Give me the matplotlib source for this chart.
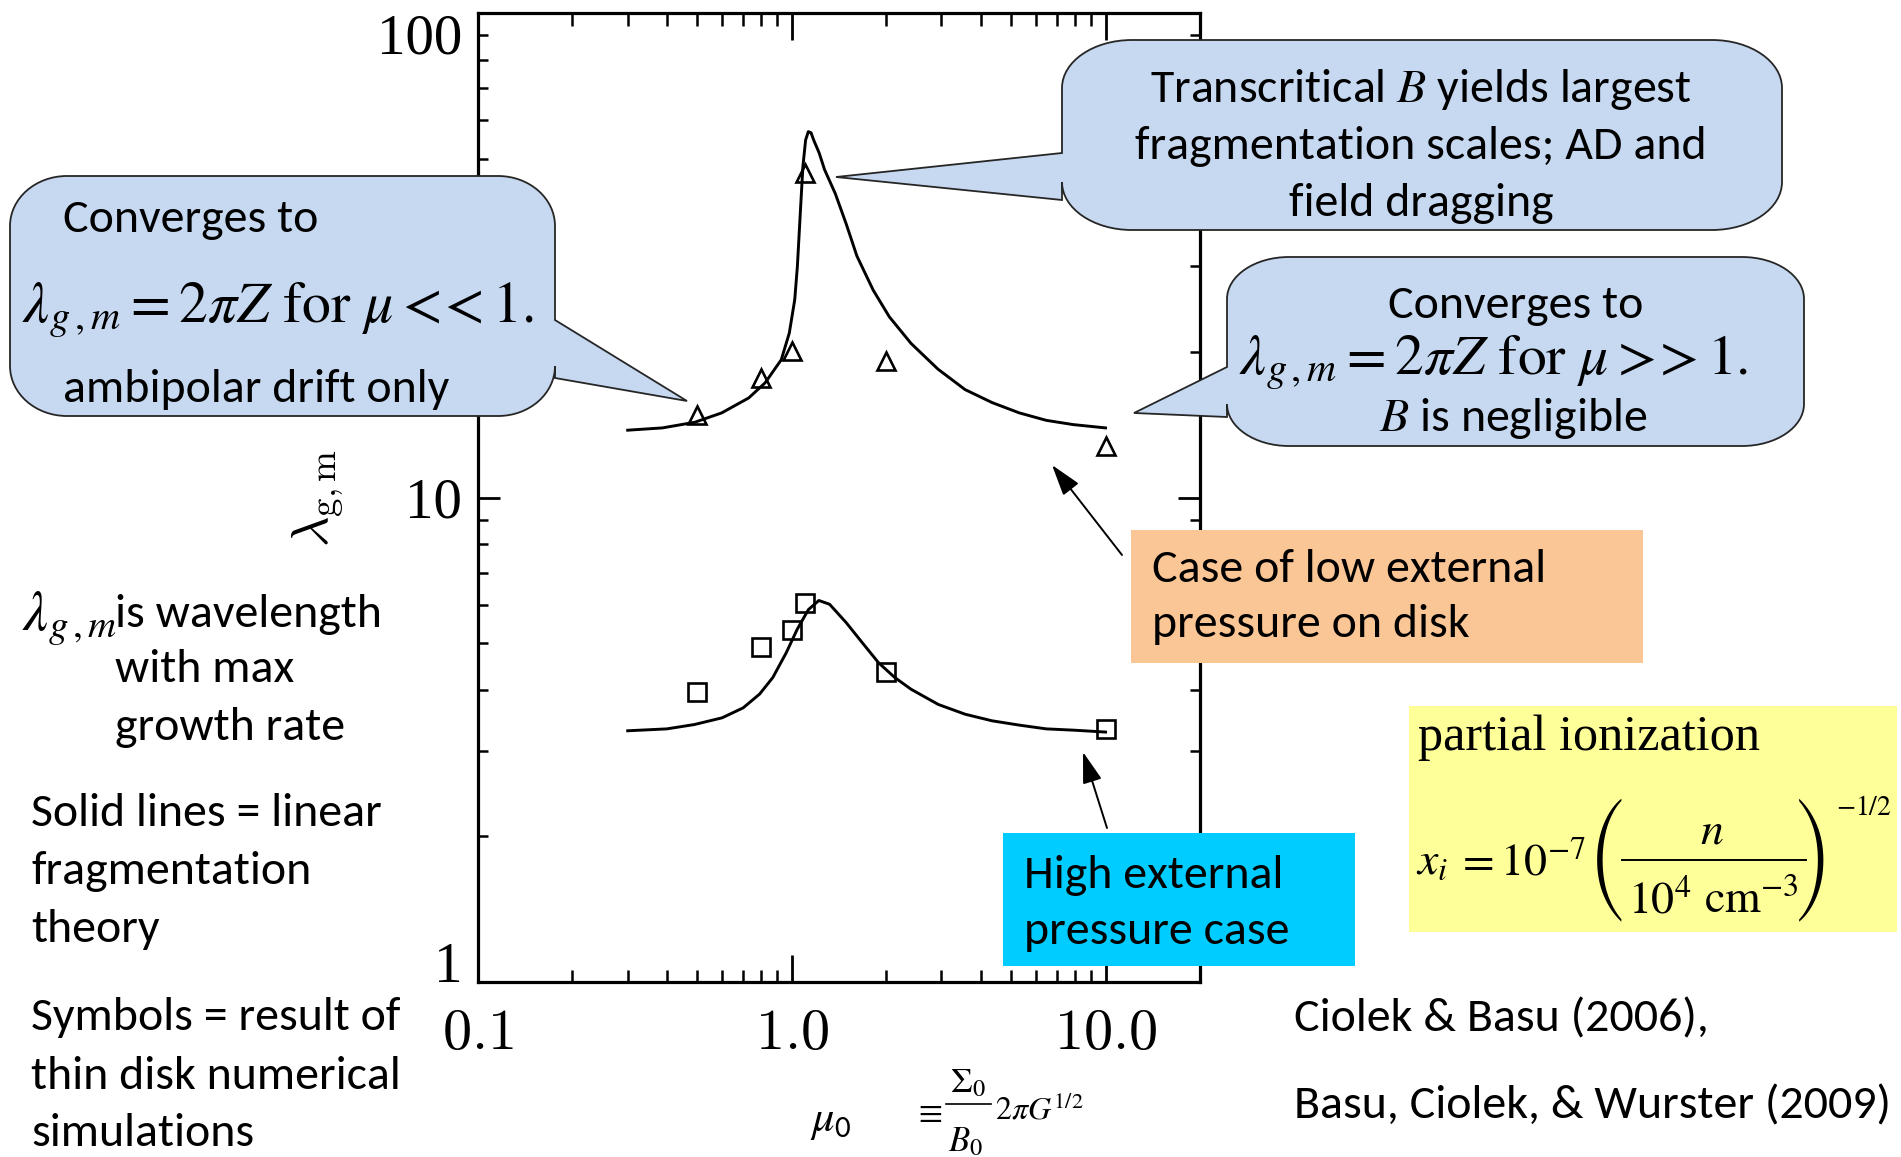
import numpy as np
import matplotlib
matplotlib.use('Agg')
import matplotlib.pyplot as plt
from matplotlib.path import Path
import matplotlib.patches as mpatches
from matplotlib.lines import Line2D
from matplotlib import font_manager as fm
from matplotlib.ticker import LogLocator, NullFormatter, FixedLocator, FixedFormatter
import matplotlib.transforms as mtransforms

# ---------------- data ----------------
mu_theory = [0.30, 0.387, 0.491, 0.598, 0.729, 0.822, 0.926, 0.982, 1.022, 1.042,
             1.063, 1.085, 1.107, 1.129, 1.152, 1.174, 1.223, 1.272, 1.376, 1.491,
             1.613, 1.817, 2.046, 2.399, 2.925, 3.567, 4.35, 5.31, 6.47, 7.89, 10.0]
lam_theory_low_p = [13.77, 13.92, 14.30, 14.95, 16.05, 17.24, 19.25, 21.85, 25.6, 30.0,
                    38.0, 48.2, 54.7, 56.9, 56.6, 54.7, 51.4, 47.5, 42.4, 36.7,
                    31.5, 26.8, 23.6, 20.8, 18.4, 16.7, 15.7, 14.95, 14.43, 14.14, 13.92]

mu_theory_hp = [0.30, 0.40, 0.49, 0.60, 0.70, 0.79, 0.87, 0.96, 1.04, 1.13, 1.22,
                1.32, 1.49, 1.68, 1.89, 2.13, 2.40, 2.93, 3.57, 4.35, 5.31, 6.47, 7.89, 10.0]
lam_theory_high_p = [3.30, 3.33, 3.40, 3.51, 3.68, 3.93, 4.25, 4.78, 5.34, 5.87, 6.13,
                     6.02, 5.52, 5.01, 4.56, 4.25, 4.02, 3.74, 3.57, 3.46, 3.39, 3.33, 3.31, 3.28]

mu_sim = [0.5, 0.8, 1.0, 1.1, 2.0, 10.0]
lam_sim_low_p = [14.8, 17.65, 20.1, 46.7, 19.1, 12.76]
lam_sim_high_p = [3.97, 4.92, 5.34, 6.07, 4.37, 3.33]

xtick_vals = [0.1, 1.0, 10.0]
xtick_labels = ['0.1', '1.0', '10.0']
ytick_vals = [1, 10, 100]
ytick_labels = ['1', '10', '100']

# ---------------- figure ----------------
W, H = 1901, 1157
plt.rcParams['mathtext.fontset'] = 'cm'
fig = plt.figure(figsize=(W / 100, H / 100), dpi=100)


def avail(name):
    try:
        fm.findfont(fm.FontProperties(family=name), fallback_to_default=False)
        return True
    except Exception:
        return False


SANS = [f for f in ['Carlito', 'Lato', 'DejaVu Sans'] if avail(f)] or ['DejaVu Sans']
SERIF = [f for f in ['Liberation Serif', 'DejaVu Serif'] if avail(f)] or ['DejaVu Serif']
BIGP = [f for f in ['STIXSizeThreeSym', 'STIXGeneral', 'DejaVu Serif'] if avail(f)] or ['DejaVu Serif']

# main axes (pixel box)
L, R, T, B = 478, 1200, 13, 982
ax = fig.add_axes([L / W, 1 - B / H, (R - L) / W, (B - T) / H])
ax.set_xscale('log')
ax.set_yscale('log')
ax.set_xlim(0.1, 20)
ax.set_ylim(1, 100)

ax.plot(mu_theory, lam_theory_low_p, color='k', lw=2.1)
ax.plot(mu_theory_hp, lam_theory_high_p, color='k', lw=2.1)
ax.plot(mu_sim, lam_sim_low_p, ls='none', marker='^', ms=13, mfc='none', mec='k', mew=1.9)
ax.plot(mu_sim, lam_sim_high_p, ls='none', marker='s', ms=12.5, mfc='none', mec='k', mew=1.9)

for s in ax.spines.values():
    s.set_linewidth(2.3)

ax.xaxis.set_major_locator(FixedLocator(xtick_vals))
ax.xaxis.set_major_formatter(FixedFormatter([r'$%s$' % t for t in xtick_labels]))
ax.xaxis.set_minor_locator(LogLocator(base=10, subs=np.arange(2, 10), numticks=30))
ax.xaxis.set_minor_formatter(NullFormatter())
ax.yaxis.set_major_locator(FixedLocator(ytick_vals))
ax.yaxis.set_major_formatter(NullFormatter())
ax.yaxis.set_minor_locator(LogLocator(base=10, subs=np.arange(2, 10), numticks=30))
ax.yaxis.set_minor_formatter(NullFormatter())

ax.tick_params(which='both', direction='in', top=True, right=True, color='k')
ax.tick_params(axis='x', which='major', length=19.4, width=2.0, labelsize=42, pad=16)
ax.tick_params(axis='x', which='minor', length=9, width=1.8)
ax.tick_params(axis='y', which='major', length=15.8, width=2.0)
ax.tick_params(axis='y', which='minor', length=7.2, width=1.8)

trans = mtransforms.blended_transform_factory(ax.transAxes, ax.transData)
off = mtransforms.ScaledTranslation(-16 / 100, 0, fig.dpi_scale_trans)
for v, lab in zip(ytick_vals, ytick_labels):
    if v == max(ytick_vals):
        va = 'top'
    elif v == min(ytick_vals):
        va = 'baseline'
    else:
        va = 'center_baseline'
    ax.text(0, v, lab, transform=trans + off, ha='right', va=va, fontsize=41, family=SERIF)

# ---------------- overlay (pixel coordinates, y down) ----------------
ov = fig.add_axes([0, 0, 1, 1], zorder=5)
ov.set_xlim(0, W)
ov.set_ylim(H, 0)
ov.axis('off')
ov.patch.set_alpha(0)

renderer = fig.canvas.get_renderer()


def extent_of(s, size, **kw):
    t = ov.text(0, 0, s, fontsize=size, **kw)
    bb = t.get_window_extent(renderer)
    t.remove()
    return bb


def fit_size(s, target, **kw):
    return 40 * target / extent_of(s, 40, **kw).width


def put(x, y, s, size, ha='left', va='baseline', **kw):
    return ov.text(x, y, s, fontsize=size, ha=ha, va=va, zorder=10, **kw)


K = 0.5523


def bubble_path(x0, y0, x1, y1, rx, ry, side=None, b1=None, b2=None, tip=None):
    verts, codes = [], []

    def M(p):
        verts.append(p); codes.append(Path.MOVETO)

    def Ln(p):
        verts.append(p); codes.append(Path.LINETO)

    def C(p1, p2, p3):
        verts.extend([p1, p2, p3]); codes.extend([Path.CURVE4] * 3)

    M((x0 + rx, y0))
    Ln((x1 - rx, y0))
    C((x1 - rx + K * rx, y0), (x1, y0 + ry - K * ry), (x1, y0 + ry))
    if side == 'right':
        Ln((x1, b1)); Ln(tip); Ln((x1, b2))
    Ln((x1, y1 - ry))
    C((x1, y1 - ry + K * ry), (x1 - rx + K * rx, y1), (x1 - rx, y1))
    Ln((x0 + rx, y1))
    C((x0 + rx - K * rx, y1), (x0, y1 - ry + K * ry), (x0, y1 - ry))
    if side == 'left':
        Ln((x0, b2)); Ln(tip); Ln((x0, b1))
    Ln((x0, y0 + ry))
    C((x0, y0 + ry - K * ry), (x0 + rx - K * rx, y0), (x0 + rx, y0))
    verts.append((x0 + rx, y0)); codes.append(Path.CLOSEPOLY)
    return Path(verts, codes)


BLUE = '#C6D9F1'
EDGE = '#262626'
for args in [
    dict(x0=10, y0=176, x1=555, y1=416, rx=57, ry=50, side='right', b1=320, b2=378, tip=(687, 401)),
    dict(x0=1062, y0=40, x1=1782, y1=230, rx=70, ry=48, side='left', b1=153, b2=200, tip=(836, 177)),
    dict(x0=1227, y0=257, x1=1804, y1=446, rx=62, ry=42, side='left', b1=367, b2=417, tip=(1134, 413)),
]:
    ov.add_patch(mpatches.PathPatch(bubble_path(**args), facecolor=BLUE, edgecolor=EDGE,
                                    lw=1.3, zorder=3))

# plain coloured boxes
ov.add_patch(mpatches.Rectangle((1131, 530), 512, 133, facecolor='#FBC695', edgecolor='none', zorder=3))
ov.add_patch(mpatches.Rectangle((1003, 833), 352, 133, facecolor='#00CCFF', edgecolor='none', zorder=3))
ov.add_patch(mpatches.Rectangle((1409, 706), 488, 226, facecolor='#FFFF99', edgecolor='none', zorder=3))

# common sans size
sans_refs = [('Converges to', 255), ('ambipolar drift only', 386),
             ('fragmentation scales; AD and', 574), ('field dragging', 263),
             ('Case of low external', 392), ('High external', 257),
             ('is wavelength', 267), ('Solid lines = linear', 352),
             ('Symbols = result of', 370), ('Basu, Ciolek, & Wurster (2009)', 594)]
FS = float(np.median([fit_size(s, w, family=SANS) for s, w in sans_refs]))
sk = dict(family=SANS)
st = dict(math_fontfamily='stix')

# callout 1
put(63, 232, 'Converges to', FS, **sk)
m1 = r'$\lambda_{g\,,m} = 2\pi Z\ \mathrm{for}\ \mu <\!\!< 1.$'
put(22, 322, m1, fit_size(m1, 511, **st), **st)
put(63, 402, 'ambipolar drift only', FS, **sk)

# callout 2
put(1421, 102, r'Transcritical $B$ yields largest', FS, ha='center', **st, **sk)
put(1421, 159, 'fragmentation scales; AD and', FS, ha='center', **sk)
put(1421, 216, 'field dragging', FS, ha='center', **sk)

# callout 3
put(1516, 318, 'Converges to', FS, ha='center', **sk)
m3 = r'$\lambda_{g\,,m} = 2\pi Z\ \mathrm{for}\ \mu >\!\!> 1.$'
put(1239, 375, m3, fit_size(m3, 509, **st), **st)
put(1513, 431, r'$B$ is negligible', FS, ha='center', **st, **sk)

# orange / cyan boxes
put(1152, 582, 'Case of low external', FS, **sk)
put(1152, 637, 'pressure on disk', FS, **sk)
put(1024, 888, 'High external', FS, **sk)
put(1024, 944, 'pressure case', FS, **sk)

# yellow box: partial ionization formula
put(1418, 750, 'partial ionization', fit_size('partial ionization', 342, family=SERIF), family=SERIF)
FY = 33
put(1416, 874, r'$x_i$', FY, **st)
put(1456, 874, r'$=10^{-7}$', FY, **st)
ph = extent_of('(', 40, family=BIGP).height
psz = 40 * 124 / ph
put(1625, 861, '(', psz, ha='right', va='center', family=BIGP)
put(1832, 861, ')', psz, ha='right', va='center', family=BIGP)
put(1712, 843, r'$n$', FY, ha='center', **st)
ov.add_line(Line2D([1622, 1806], [860, 860], color='k', lw=1.4, zorder=10))
put(1628, 913, r'$10^4$', FY, **st)
put(1704, 913, r'$\mathrm{cm}^{-3}$', FY, **st)
put(1836, 815, r'$-1/2$', 20, **st)

# left notes
put(22, 631, r'$\lambda_{g\,,m}$', 40, **st)
put(115, 627, 'is wavelength', FS, **sk)
put(115, 682, 'with max', FS, **sk)
put(115, 740, 'growth rate', FS, **sk)
put(31, 826, 'Solid lines = linear', FS, **sk)
put(31, 884, 'fragmentation', FS, **sk)
put(31, 942, 'theory', FS, **sk)
put(31, 1030, 'Symbols = result of', FS, **sk)
put(31, 1089, 'thin disk numerical', FS, **sk)
put(31, 1146, 'simulations', FS, **sk)

# references
put(1294, 1031, 'Ciolek & Basu (2006),', FS, **sk)
put(1294, 1118, 'Basu, Ciolek, & Wurster (2009)', FS, **sk)

# axis labels
put(318, 498, r'$\lambda_{\mathrm{g,m}}$', 38, ha='center', va='center', rotation=90)
put(810, 1131, r'$\mu_{\mathsf{0}}$', 32, **st)
put(928, 1112, r'$\equiv$', 25, ha='center', va='center', **st)
put(968, 1092, r'$\Sigma_0$', 25, ha='center', **st)
ov.add_line(Line2D([946, 991], [1104, 1104], color='k', lw=1.2, zorder=10))
put(966, 1151, r'$B_0$', 25, ha='center', **st)
put(995, 1120, r'$2\pi G^{1/2}$', 23, **st)

# arrows
for tail, head in [((1122, 555), (1052, 465)), ((1107, 828), (1083, 752))]:
    ov.annotate('', xy=head, xytext=tail,
                arrowprops=dict(arrowstyle='-|>,head_length=0.8,head_width=0.25',
                                lw=1.4, color='k', shrinkA=0, shrinkB=0, mutation_scale=24),
                zorder=4)

fig.savefig('out.png', dpi=100)
